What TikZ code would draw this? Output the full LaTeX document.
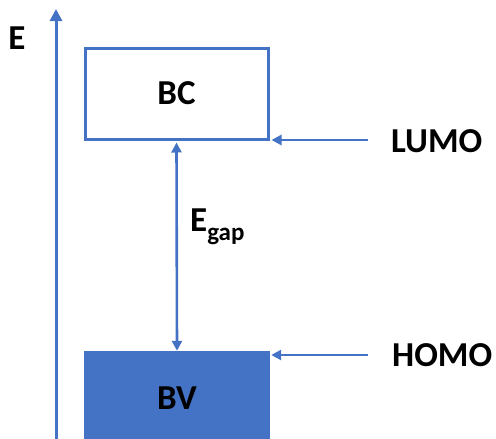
\documentclass[tikz,border=0pt]{standalone}
\usepackage{fontspec}
\setmainfont{Carlito}
\usetikzlibrary{arrows.meta}
\definecolor{bandblue}{HTML}{4472C4}
\begin{document}
\begin{tikzpicture}[x=1pt,y=-1pt,
  lbl/.style={font=\bfseries\fontsize{35}{40}\selectfont, text=black, inner sep=0pt},
  conn/.style={draw=bandblue, line width=2.6pt, -{Triangle[length=10pt,width=10pt]}},
  ax/.style={draw=bandblue, line width=3pt, -{Triangle[length=12pt,width=12pt]}}
]
\useasboundingbox (0,0) rectangle (496,439);
% energy axis
\coordinate (axbot) at (56,439);
\coordinate (axtop) at (56,9);
\draw[ax] (axbot) -- (axtop);
\node[lbl] (E) at (17,38) {E};
% conduction band (empty) and valence band (filled)
\node[draw=bandblue, line width=3pt, minimum width=183pt, minimum height=91pt, inner sep=0pt] (BC) at (176.5,93.5) {};
\node[lbl] at (BC.center) {BC};
\node[fill=bandblue, minimum width=186pt, minimum height=90pt, inner sep=0pt] (BV) at (177,396) {};
\node[lbl] at (177,398) {BV};
% band gap
\draw[draw=bandblue, line width=2.6pt, {Triangle[length=10pt,width=10pt]}-{Triangle[length=10pt,width=10pt]}]
  ([yshift=-2pt]BC.south) -- (BV.north);
\node[lbl, anchor=west] (Eg) at (190,227) {E\raisebox{-9pt}{\fontsize{25}{28}\selectfont gap}};
% frontier orbitals
\node[lbl, anchor=west] (LUMO) at (391,141) {LUMO};
\node[lbl, anchor=west] (HOMO) at (392,355) {HOMO};
\coordinate (lumoA) at (368,140);
\coordinate (homoA) at (368,355);
\draw[conn] (lumoA) -- ([xshift=2pt]lumoA -| BC.east);
\draw[conn] (homoA) -- ([xshift=1pt]homoA -| BV.east);
\end{tikzpicture}
\end{document}
